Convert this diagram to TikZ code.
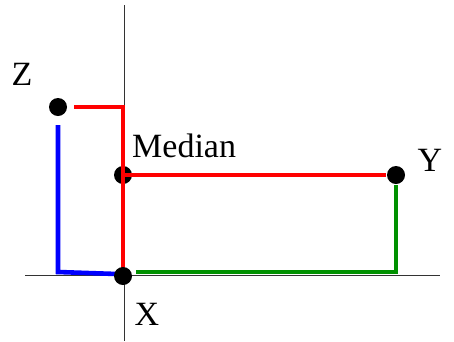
\documentclass[tikz,border=0pt]{standalone}
\usepackage{fontspec}
\setmainfont{Liberation Serif}
\usetikzlibrary{calc}
\definecolor{dgreen}{RGB}{0,145,0}
\tikzset{
  dot/.style={circle,fill=black,inner sep=0pt,minimum size=18pt},
  lbl/.style={inner sep=0pt,font=\fontsize{34}{34}\selectfont},
  axis/.style={draw=black!80,line width=1pt},
  seg/.style={line width=4.6pt},
}
\begin{document}
\begin{tikzpicture}[x=1pt,y=-1pt]
\useasboundingbox (0,0) rectangle (454,341);
% axes
\coordinate (ytop) at (124,5);
\coordinate (ybot) at (124,341);
\coordinate (xl) at (25,275);
\coordinate (xr) at (440,275);
\draw[axis] (ytop) -- (ybot);
\draw[axis] (xl) -- (xr);
% points
\node[dot] (M) at (123,175) {};
\path (123,276) coordinate (Xc) (396,175) coordinate (Yc) (58,107) coordinate (Zc);
% connectors
\draw[seg,red] ($(Zc)+(16,0)$) -- ($(M.center |- Zc)+(2,0)$);
\draw[seg,red] ($(M.center |- Zc)+(0,-2)$) -- (Xc);
\draw[seg,red] (M.center) -- ($(Yc)+(-10,0)$);
\draw[seg,blue] ($(Zc)+(0,18)$) -- ($(Zc |- Xc)+(0,-4)$) -- ($(Xc)+(-6,-2)$);
\draw[seg,dgreen] ($(Xc)+(13,-4)$) -- ($(Yc |- Xc)+(0,-4)$) -- ($(Yc)+(0,10)$);
\node[dot] (X) at (Xc) {};
\node[dot] (Y) at (Yc) {};
\node[dot] (Z) at (Zc) {};
% labels
\node[lbl] (lZ) at (22,74) {Z};
\node[lbl,anchor=west] (lM) at (132,146) {Median};
\node[lbl] (lY) at (430,160) {Y};
\node[lbl] (lX) at (147,314) {X};
\end{tikzpicture}
\end{document}
